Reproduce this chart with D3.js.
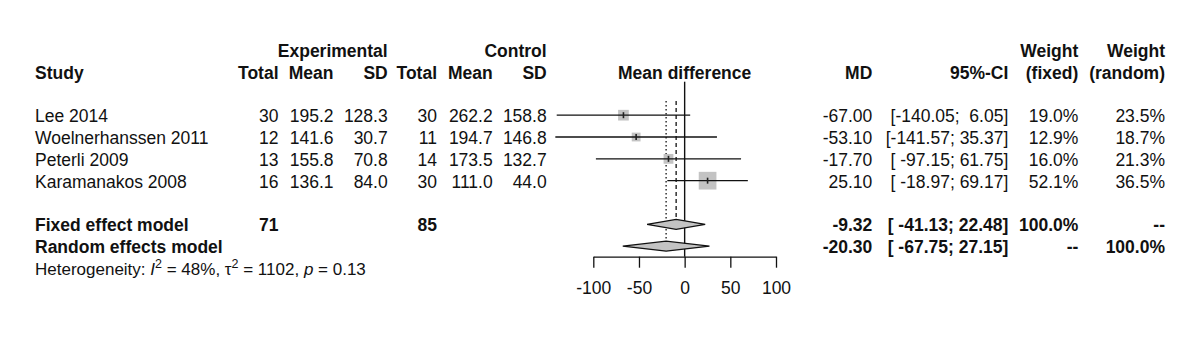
<!DOCTYPE html>
<html>
<head>
<meta charset="utf-8">
<script src="https://cdn.jsdelivr.net/npm/d3@7"></script>
<style>
  body { margin: 0; background: #fff; }
  svg text { font-family: "Liberation Sans", Arial, Helvetica, sans-serif; font-size: 17.5px; fill: #111; white-space: pre; }
  .bold { font-weight: bold; }
</style>
</head>
<body>
<div id="container"></div>
<script>
// study rows
let studies = ["Lee 2014", "Woelnerhanssen 2011", "Peterli 2009", "Karamanakos 2008"];
let expTotal = [30, 12, 13, 16];
let expMean = [195.2, 141.6, 155.8, 136.1];
let expSD = [128.3, 30.7, 70.8, 84.0];
let ctrlTotal = [30, 11, 14, 30];
let ctrlMean = [262.2, 194.7, 173.5, 111.0];
let ctrlSD = [158.8, 146.8, 132.7, 44.0];
let md = [-67.00, -53.10, -17.70, 25.10];
let ciLow = [-140.05, -141.57, -97.15, -18.97];
let ciHigh = [6.05, 35.37, 61.75, 69.17];
let wFixed = [19.0, 12.9, 16.0, 52.1];
let wRandom = [23.5, 18.7, 21.3, 36.5];

// pooled estimates
let models = ["Fixed effect model", "Random effects model"];
let modelMD = [-9.32, -20.30];
let modelLow = [-41.13, -67.75];
let modelHigh = [22.48, 27.15];
let modelWFixed = ["100.0%", "--"];
let modelWRandom = ["--", "100.0%"];
let totalExp = 71;
let totalCtrl = 85;

let axisTicks = [-100, -50, 0, 50, 100];

let w = 1200;
let h = 339;

let viz = d3.select("#container")
  .append("svg")
    .attr("width", w)
    .attr("height", h)
;

// rows: 0,1 headers, 3-6 studies, 8-9 models, 10 heterogeneity
let rowY = d3.scaleLinear().domain([0, 10]).range([56.7, 275]);
let mid = 7; // from baseline to the middle of a row

let xScale = d3.scaleLinear().domain([-100, 100]).range([593.3, 776]);
let boxSize = d3.scaleSqrt().domain([0, 52.1]).range([0, 17.7]);

// column right edges
let col = {
  study: 35, eTotal: 278.5, eMean: 333.5, eSD: 387.7,
  cTotal: 437, cMean: 492.7, cSD: 546.7,
  md: 872.3, ci: 1008.3, wf: 1078.3, wr: 1165
};

function txt(x, row, s, anchor, bold) {
  return viz.append("text")
    .attr("x", x)
    .attr("y", rowY(row))
    .attr("text-anchor", anchor || "end")
    .classed("bold", !!bold)
    .text(s);
}

// headers
txt(col.eSD, 0, "Experimental", "end", true);
txt(col.cSD, 0, "Control", "end", true);
txt(col.wf, 0, "Weight", "end", true);
txt(col.wr, 0, "Weight", "end", true);
txt(col.study, 1, "Study", "start", true);
txt(col.eTotal, 1, "Total", "end", true);
txt(col.eMean, 1, "Mean", "end", true);
txt(col.eSD, 1, "SD", "end", true);
txt(col.cTotal, 1, "Total", "end", true);
txt(col.cMean, 1, "Mean", "end", true);
txt(col.cSD, 1, "SD", "end", true);
txt(xScale(0), 1, "Mean difference", "middle", true);
txt(col.md, 1, "MD", "end", true);
txt(col.ci, 1, "95%-CI", "end", true);
txt(col.wf, 1, "(fixed)", "end", true);
txt(col.wr, 1, "(random)", "end", true);

function fmtCI(lo, hi) {
  let a = lo.toFixed(2), b = hi.toFixed(2);
  return "[" + a.padStart(7) + "; " + b.padStart(5) + "]";
}

studies.forEach(function(s, i) {
  let r = 3 + i;
  txt(col.study, r, s, "start");
  txt(col.eTotal, r, expTotal[i]);
  txt(col.eMean, r, expMean[i].toFixed(1));
  txt(col.eSD, r, expSD[i].toFixed(1));
  txt(col.cTotal, r, ctrlTotal[i]);
  txt(col.cMean, r, ctrlMean[i].toFixed(1));
  txt(col.cSD, r, ctrlSD[i].toFixed(1));
  txt(col.md, r, md[i].toFixed(2));
  txt(col.ci, r, fmtCI(ciLow[i], ciHigh[i]));
  txt(col.wf, r, wFixed[i].toFixed(1) + "%");
  txt(col.wr, r, wRandom[i].toFixed(1) + "%");
});

models.forEach(function(m, i) {
  let r = 8 + i;
  txt(col.study, r, m, "start", true);
  txt(col.md, r, modelMD[i].toFixed(2), "end", true);
  txt(col.ci, r, fmtCI(modelLow[i], modelHigh[i]), "end", true);
  txt(col.wf, r, modelWFixed[i], "end", true);
  txt(col.wr, r, modelWRandom[i], "end", true);
});
txt(col.eTotal, 8, totalExp, "end", true);
txt(col.cTotal, 8, totalCtrl, "end", true);

// heterogeneity line
let het = viz.append("text")
  .attr("x", col.study)
  .attr("y", rowY(10))
  .attr("text-anchor", "start")
  .style("font-size", "17px");
het.append("tspan").text("Heterogeneity: ");
het.append("tspan").style("font-style", "italic").text("I");
het.append("tspan").attr("dy", -7).style("font-size", "12.5px").text("2");
het.append("tspan").attr("dy", 7).text(" = 48%, τ");
het.append("tspan").attr("dy", -7).style("font-size", "12.5px").text("2");
het.append("tspan").attr("dy", 7).text(" = 1102, ");
het.append("tspan").style("font-style", "italic").text("p");
het.append("tspan").text(" = 0.13");

// the forest plot
let plot = viz.append("g").classed("forest", true);
let axisY = 256.7;

// line of no effect
plot.append("line")
  .attr("x1", xScale(0)).attr("x2", xScale(0))
  .attr("y1", 81.7).attr("y2", axisY)
  .attr("stroke", "#111").attr("stroke-width", 1.4);

// pooled estimate reference lines
plot.append("line")
  .attr("x1", xScale(modelMD[0])).attr("x2", xScale(modelMD[0]))
  .attr("y1", 101).attr("y2", rowY(8) - mid)
  .attr("stroke", "#111").attr("stroke-width", 1.3)
  .attr("stroke-dasharray", "4,3");
plot.append("line")
  .attr("x1", xScale(modelMD[1])).attr("x2", xScale(modelMD[1]))
  .attr("y1", 101).attr("y2", rowY(9) - mid)
  .attr("stroke", "#111").attr("stroke-width", 1.3)
  .attr("stroke-dasharray", "1.5,2.5");

// study confidence intervals and boxes
studies.forEach(function(s, i) {
  let cy = rowY(3 + i) - mid;
  let size = boxSize(wFixed[i]);
  plot.append("rect")
    .attr("x", xScale(md[i]) - size / 2)
    .attr("y", cy - size / 2)
    .attr("width", size)
    .attr("height", size)
    .attr("fill", "#c3c3c3");
  plot.append("line")
    .attr("x1", xScale(ciLow[i])).attr("x2", xScale(ciHigh[i]))
    .attr("y1", cy).attr("y2", cy)
    .attr("stroke", "#111").attr("stroke-width", 1.3);
  plot.append("line")
    .attr("x1", xScale(md[i])).attr("x2", xScale(md[i]))
    .attr("y1", cy - 3).attr("y2", cy + 3)
    .attr("stroke", "#222").attr("stroke-width", 1.6);
});

// diamonds
models.forEach(function(m, i) {
  let cy = rowY(8 + i) - mid;
  let pts = [
    [xScale(modelLow[i]), cy],
    [xScale(modelMD[i]), cy - 5],
    [xScale(modelHigh[i]), cy],
    [xScale(modelMD[i]), cy + 5]
  ];
  plot.append("polygon")
    .attr("points", pts.map(p => p.join(",")).join(" "))
    .attr("fill", "#c3c3c3")
    .attr("stroke", "#111")
    .attr("stroke-width", 1.2);
});

// x axis, labels with a plain hyphen
let xAxis = d3.axisBottom(xScale)
  .tickValues(axisTicks)
  .tickFormat(d => String(d))
  .tickSize(11)
  .tickPadding(14)
  .tickSizeOuter(0);
let xAxisGroup = plot.append("g")
  .attr("transform", "translate(0," + axisY + ")")
  .call(xAxis);
xAxisGroup.select(".domain").attr("stroke", "#111").attr("stroke-width", 1.3);
xAxisGroup.selectAll(".tick line").attr("stroke", "#111").attr("stroke-width", 1.3);
xAxisGroup.selectAll("text")
  .style("font-family", "'Liberation Sans', Arial, sans-serif")
  .style("font-size", "17.5px")
  .attr("fill", "#111");
</script>
</body>
</html>
